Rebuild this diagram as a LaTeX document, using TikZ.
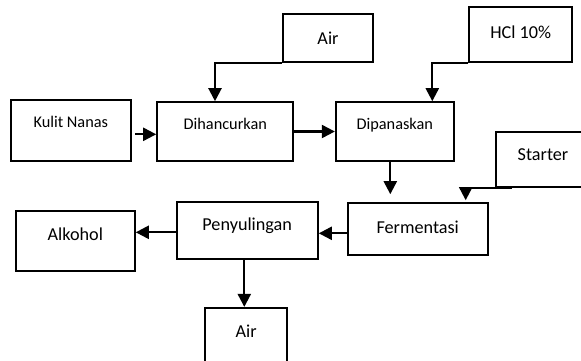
\documentclass[tikz,border=0pt]{standalone}
\usepackage{fontspec}
\setmainfont{Carlito}
\usetikzlibrary{arrows.meta}
\tikzset{
	box/.style={draw, line width=2.2pt, inner sep=0pt, text height=12.7pt, font=\fontsize{18.2}{22}\selectfont},
	smallbox/.style={box, text height=11.4pt, font=\fontsize{16.3}{20}\selectfont},
	arr/.style={line width=2.2pt, -{Triangle[length=13pt,width=13pt]}}
}

\begin{document}
\begin{tikzpicture}[x=1pt, y=-1pt]
		%%%%% START %%%%%
		
		\useasboundingbox (0, 0) rectangle (581, 360);
		
		\node[smallbox, minimum width=120.3, minimum height=61, text depth=17.6pt] (kulit) at (70.8, 130.5) {Kulit Nanas};
		\node[smallbox, minimum width=136, minimum height=58.4, text depth=16pt] (dihan) at (225.3, 131.5) {Dihancurkan};
		\node[smallbox, minimum width=117.7, minimum height=58.4, text depth=16pt] (dipanas) at (394.8, 131.5) {Dipanaskan};
		
		\node[box, minimum width=89.4, minimum height=47.7, text depth=0pt] (airin) at (328, 37.8) {Air};
		\node[box, minimum width=102.7, minimum height=54.4, text depth=4.7pt] (hcl) at (520.7, 34.5) {HCl 10\%};
		\node[box, minimum width=94, minimum height=55, text depth=9.5pt] (starter) at (543, 159.2) {Starter};
		
		\node[box, minimum width=140, minimum height=52, text depth=5.3pt] (ferment) at (417.7, 229.3) {Fermentasi};
		\node[box, minimum width=141, minimum height=57.3, text depth=13.3pt] (penyul) at (247.2, 230.3) {Penyulingan};
		\node[box, minimum width=118.7, minimum height=60, text depth=13.5pt] (alkohol) at (75.3, 241) {Alkohol};
		\node[box, minimum width=82.3, minimum height=56, text depth=9pt] (airout) at (246.2, 336) {Air};
		
		\draw[arr] ([xshift=3pt, yshift=-3.8pt]kulit.east) -- ([yshift=-2.8pt]dihan.west);
		\draw[arr] (airin.south west) -| ([xshift=-10.3pt]dihan.north);
		\draw[arr] (dihan) -- (dipanas);
		\draw[arr] (hcl.south west) -| ([xshift=37.5pt]dipanas.north);
		
		\coordinate (dp) at ([xshift=-4.5pt]dipanas.south);
		\draw[arr, shorten >=8pt] (dp) -- (dp |- ferment.north);
		\draw[arr, shorten >=2pt] ([xshift=17pt]starter.south west) -| ([xshift=48pt]ferment.north);
		
		\draw[arr] ([yshift=-4pt]ferment.west) -- ([yshift=-3pt]penyul.east);
		\draw[arr] ([yshift=-2pt]penyul.west) -- ([yshift=8.7pt]alkohol.east);
		\draw[arr] ([xshift=-2.9pt]penyul.south) -- ([xshift=-1.9pt]airout.north);
		
		%%%%% END %%%%%
	\end{tikzpicture}
\end{document}
